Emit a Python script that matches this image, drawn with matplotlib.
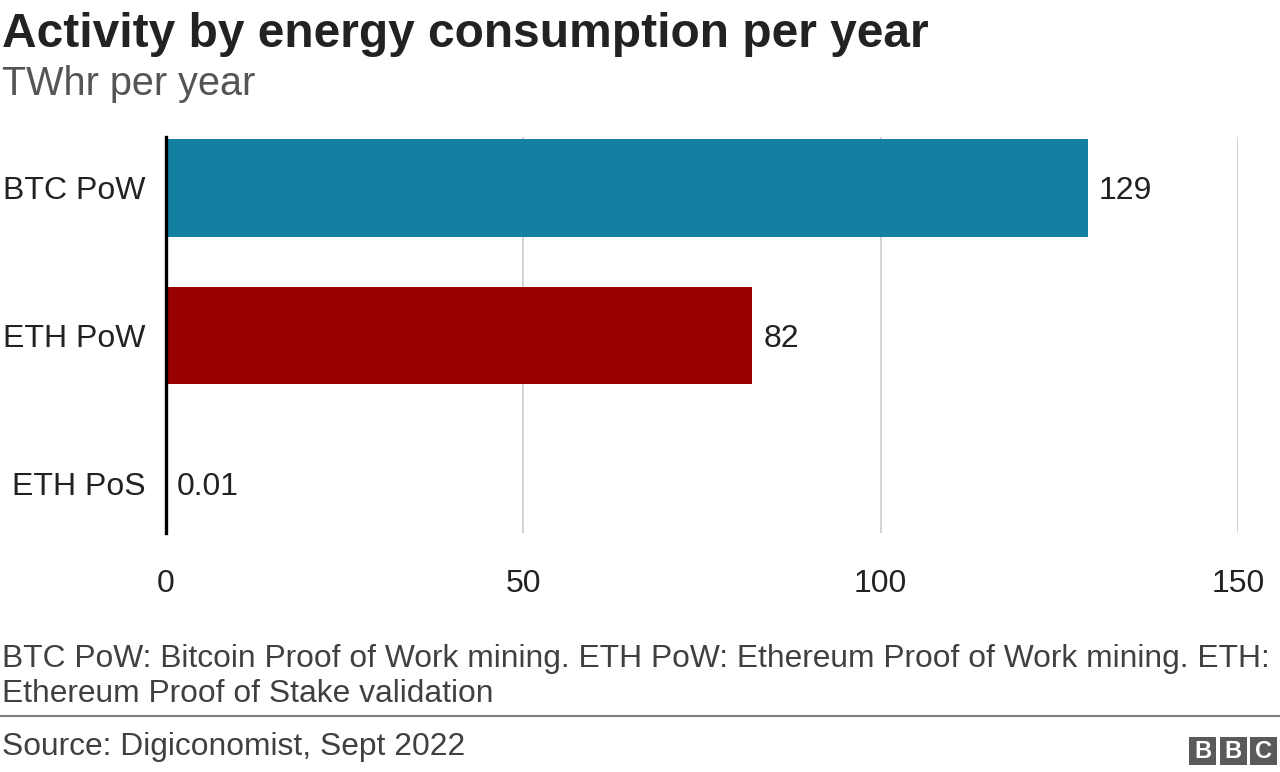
import matplotlib
matplotlib.use("Agg")
import matplotlib.pyplot as plt
from matplotlib.patches import Rectangle
from matplotlib.lines import Line2D

categories = ["BTC PoW", "ETH PoW", "ETH PoS"]
values = [129, 82, 0.01]
value_labels = ["129", "82", "0.01"]
colors = ["#1380A1", "#990000", "#990000"]
xticks = [0, 50, 100, 150]

plt.rcParams['font.family'] = ['Liberation Sans', 'DejaVu Sans']

W, H = 1280, 772
fig = plt.figure(figsize=(W / 100, H / 100), dpi=100)

def fx(px):
    return px / W

def fy(py):
    return 1 - py / H

ax = fig.add_axes([fx(166), fy(533), fx(1238) - fx(166), (533 - 137) / H])

ypos = list(range(len(categories)))
ax.barh(ypos, values, height=0.662, color=colors, zorder=3)
ax.set_ylim(2 + 50 / 148, -51 / 148)
ax.set_xlim(0, 150)

ax.set_yticks(ypos)
ax.set_yticklabels(categories, fontsize=23, color="#222222")
ax.set_xticks(xticks)
ax.set_xticklabels([str(t) for t in xticks], fontsize=23, color="#222222")
ax.tick_params(axis='y', length=0, pad=15)
ax.tick_params(axis='x', length=0, pad=26)

for s in ["top", "right", "bottom"]:
    ax.spines[s].set_visible(False)
ax.spines["left"].set_color("#000000")
ax.spines["left"].set_linewidth(2.4)
ax.spines["left"].set_zorder(5)

ax.grid(axis='x', color="#cbcbcb", linewidth=1.2, zorder=0)
ax.grid(axis='y', visible=False)

for y, v, lab in zip(ypos, values, value_labels):
    ax.annotate(lab, xy=(v, y), xytext=(8, 0), textcoords="offset points",
                va="center_baseline", ha="left", fontsize=23, color="#222222")

# Titles
fig.text(fx(2), fy(47), "Activity by energy consumption per year", fontsize=34.5,
         fontweight="bold", color="#222222", va="baseline", ha="left")
fig.text(fx(2), fy(95), "TWhr per year", fontsize=28.5, color="#555555",
         va="baseline", ha="left")

# Footnote
fig.text(fx(2), fy(667),
         "BTC PoW: Bitcoin Proof of Work mining. ETH PoW: Ethereum Proof of Work mining. ETH:",
         fontsize=22.9, color="#404040", va="baseline", ha="left")
fig.text(fx(2), fy(702), "Ethereum Proof of Stake validation",
         fontsize=22.9, color="#404040", va="baseline", ha="left")

fig.add_artist(Line2D([0, 1], [fy(716), fy(716)], color="#808080", linewidth=1.5,
                      transform=fig.transFigure))

fig.text(fx(2), fy(755), "Source: Digiconomist, Sept 2022",
         fontsize=22.9, color="#404040", va="baseline", ha="left")

# BBC logo
box_w, gap = 27, 3.5
x0 = 1189
for i, letter in enumerate("BBC"):
    bx = x0 + i * (box_w + gap)
    fig.add_artist(Rectangle((fx(bx), fy(765)), box_w / W, 28 / H,
                             transform=fig.transFigure, color="#5a5a5a", lw=0))
    fig.text(fx(bx + box_w / 2), fy(751), letter, fontsize=17, fontweight="bold",
             color="white", ha="center", va="center")

fig.savefig("out.png", dpi=100)
